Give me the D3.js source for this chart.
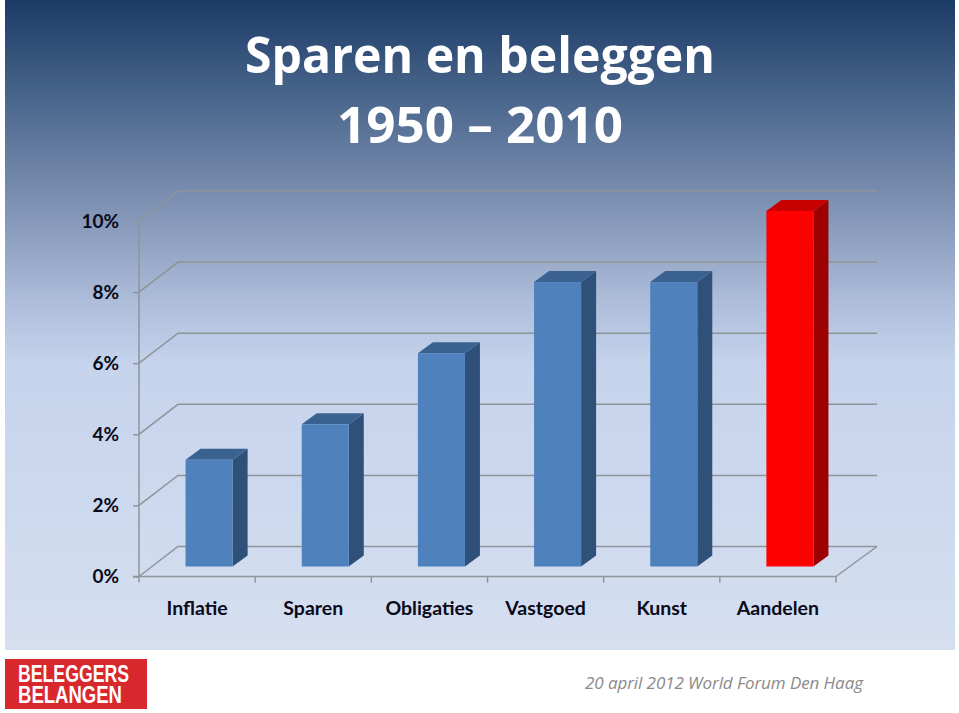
<!DOCTYPE html>
<html>
<head>
<meta charset="utf-8">
<script src="https://cdn.jsdelivr.net/npm/d3@7"></script>
<style>
html, body { margin: 0; padding: 0; background: #fff; }
svg { display: block; }
text { font-family: Lato, "Open Sans", sans-serif; }
</style>
</head>
<body>
<svg id="chart" width="959" height="713"></svg>
<script>
// Sparen en beleggen: 3D style column chart
const titleLines = ['Sparen en beleggen', '1950 – 2010'];
const titleWidths = [470, 286];
const categories = ['Inflatie', 'Sparen', 'Obligaties', 'Vastgoed', 'Kunst', 'Aandelen'];
const returns = [3, 4, 6, 8, 8, 10];
const highlighted = ['Aandelen'];
const yTicks = [0, 2, 4, 6, 8, 10];
const footer = '20 april 2012 World Forum Den Haag';
const logoLines = ['BELEGGERS', 'BELANGEN'];

const svg = d3.select('#chart');

const defs = svg.append('defs');
const bg = defs.append('linearGradient')
    .attr('id', 'bg')
    .attr('x1', 0).attr('y1', 0).attr('x2', 0).attr('y2', 1);
bg.append('stop').attr('offset', '0%').attr('stop-color', '#1b3a66');
bg.append('stop').attr('offset', '15%').attr('stop-color', '#4a668c');
bg.append('stop').attr('offset', '31%').attr('stop-color', '#7c90b2');
bg.append('stop').attr('offset', '46%').attr('stop-color', '#acbcd9');
bg.append('stop').attr('offset', '56%').attr('stop-color', '#c5d3ec');
bg.append('stop').attr('offset', '100%').attr('stop-color', '#d5dff0');

svg.append('rect')
    .attr('x', 5).attr('y', 0)
    .attr('width', 950).attr('height', 650)
    .attr('fill', 'url(#bg)');

// title
svg.append('g').selectAll('text')
    .data(titleLines)
    .join('text')
    .attr('x', 480)
    .attr('y', (d, i) => 73 + i * 70)
    .attr('text-anchor', 'middle')
    .attr('font-size', 50)
    .attr('font-weight', 700)
    .attr('textLength', (d, i) => titleWidths[i])
    .attr('lengthAdjust', 'spacingAndGlyphs')
    .style('font-family', '"Open Sans", sans-serif')
    .attr('fill', '#fff')
    .text(d => d);

// plot geometry, depth is the offset of the back wall
const left = 139, right = 836;
const depthX = 39, depthY = -30;
const barDepthX = 15, barDepthY = -11;

const x = d3.scaleBand().domain(categories).range([left, right]).paddingInner(0.595).paddingOuter(0.2975);
const y = d3.scaleLinear().domain([0, 10]).range([576.5, 221]);
const barShift = 12, barLift = -10;

const gridColor = '#8e9499';
const grid = svg.append('g')
    .attr('fill', 'none')
    .attr('stroke', gridColor)
    .attr('stroke-width', 1.5);

// back wall lines and the slanted part on the side wall
grid.selectAll('.wall')
    .data(yTicks)
    .join('path')
    .attr('class', 'wall')
    .attr('d', d => `M${left},${y(d)}L${left + depthX},${y(d) + depthY}H${right + depthX + 2}`);

// vertical axis
grid.append('line')
    .attr('x1', left).attr('x2', left)
    .attr('y1', y(10)).attr('y2', y(0));
grid.append('path')
    .attr('d', `M${right},${y(0)}L${right + depthX + 2},${y(0) + depthY}`);

const yAxis = d3.axisLeft(y)
    .tickValues(yTicks)
    .tickFormat(d => d + '%')
    .tickSize(6)
    .tickPadding(14);
const yG = svg.append('g').attr('transform', `translate(${left},0)`).call(yAxis);
yG.select('.domain').remove();
yG.selectAll('line').attr('stroke', gridColor).attr('stroke-width', 1.5);
yG.selectAll('text')
    .attr('font-size', 19)
    .attr('font-weight', 700)
    .attr('fill', '#0a0a1a');

// bottom axis: ticks sit on the band edges, labels are centred
const xAxisLine = svg.append('g').attr('stroke', gridColor).attr('stroke-width', 1.5);
xAxisLine.append('line')
    .attr('x1', left - 6).attr('x2', right)
    .attr('y1', y(0)).attr('y2', y(0));
xAxisLine.selectAll('.tick')
    .data(d3.range(categories.length + 1))
    .join('line')
    .attr('class', 'tick')
    .attr('x1', i => left + i * x.step())
    .attr('x2', i => left + i * x.step())
    .attr('y1', y(0)).attr('y2', y(0) + 6);

svg.append('g').selectAll('text')
    .data(categories)
    .join('text')
    .attr('x', d => x(d) + x.bandwidth() / 2)
    .attr('y', 615)
    .attr('text-anchor', 'middle')
    .attr('font-size', 19.5)
    .attr('font-weight', 700)
    .attr('fill', '#0a0a1a')
    .text(d => d);

// bars: front, top and side faces
const bars = svg.append('g').selectAll('g')
    .data(categories.map((c, i) => ({ name: c, value: returns[i] })))
    .join('g')
    .attr('transform', d => `translate(${x(d.name) + barShift},${barLift})`);

const isHot = d => highlighted.includes(d.name);

bars.append('path')
    .attr('fill', d => isHot(d) ? '#9c0000' : '#2f5078')
    .attr('d', d => {
        const w = x.bandwidth();
        return `M${w},${y(d.value)}l${barDepthX},${barDepthY}V${y(0) + barDepthY}l${-barDepthX},${-barDepthY}Z`;
    });

bars.append('path')
    .attr('fill', d => isHot(d) ? '#c80000' : '#3a6291')
    .attr('d', d => {
        const w = x.bandwidth();
        return `M0,${y(d.value)}l${barDepthX},${barDepthY}h${w}l${-barDepthX},${-barDepthY}Z`;
    });

bars.append('rect')
    .attr('x', 0)
    .attr('y', d => y(d.value))
    .attr('width', x.bandwidth())
    .attr('height', d => y(0) - y(d.value))
    .attr('fill', d => isHot(d) ? '#ff0000' : '#4f81bd');

// logo, one text with two lines so they stay tight
const logo = svg.append('g');
logo.append('rect')
    .attr('x', 5).attr('y', 659)
    .attr('width', 142).attr('height', 50)
    .attr('fill', '#d9272e');
logo.append('text')
    .attr('font-size', 23.5)
    .attr('font-weight', 700)
    .style('font-family', '"Liberation Sans", sans-serif')
    .attr('fill', '#fff')
    .selectAll('tspan')
    .data(logoLines)
    .join('tspan')
    .attr('x', 18)
    .attr('y', (d, i) => 682 + i * 21)
    .attr('textLength', (d, i) => i === 0 ? 111 : 104)
    .attr('lengthAdjust', 'spacingAndGlyphs')
    .text(d => d);

// footer
svg.append('text')
    .attr('x', 863)
    .attr('y', 689)
    .attr('text-anchor', 'end')
    .attr('font-size', 17)
    .attr('font-style', 'italic')
    .attr('textLength', 278)
    .style('font-family', '"Open Sans", sans-serif')
    .attr('fill', '#8a8a8a')
    .text(footer);
</script>
</body>
</html>
